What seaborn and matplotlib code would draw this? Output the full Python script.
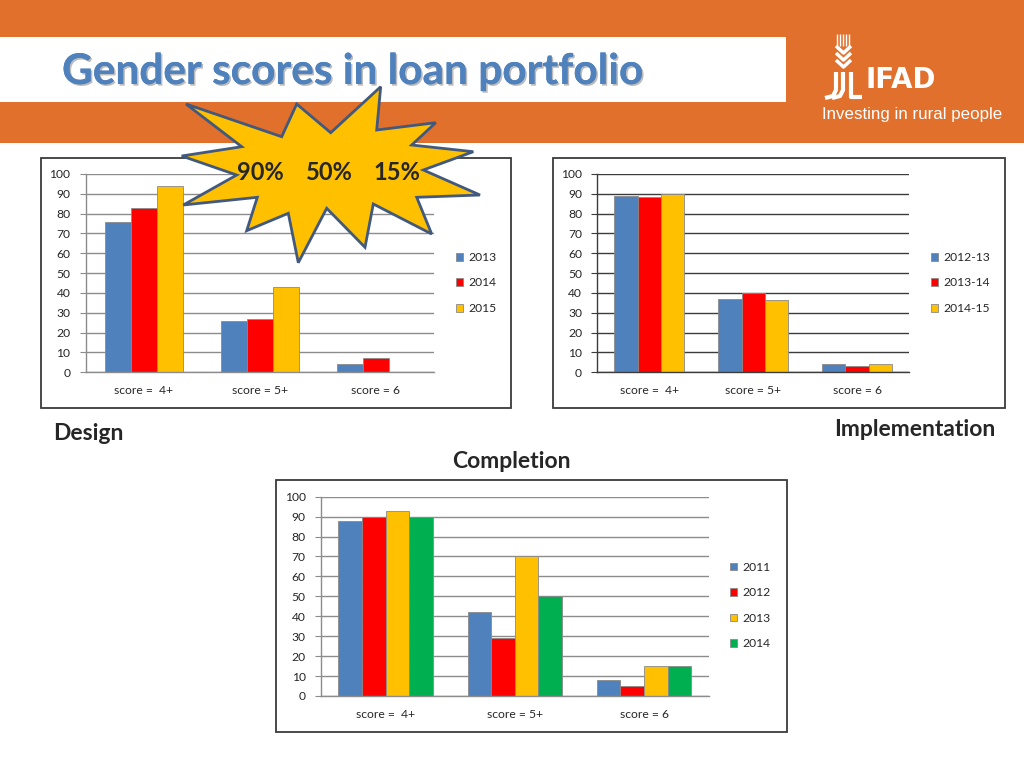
import numpy as np
import pandas as pd
import matplotlib
matplotlib.use("Agg")
import matplotlib.pyplot as plt
import matplotlib.patheffects as pe
from matplotlib.patches import Rectangle, Polygon
import seaborn as sns

# categories
scores = ["score =  4+", "score = 5+", "score = 6"]

# Design
design_years = ["2013", "2014", "2015"]
design_2013 = [76, 26, 4]
design_2014 = [83, 27, 7]
design_2015 = [94, 43, 0]

# Implementation
impl_years = ["2012-13", "2013-14", "2014-15"]
impl_2012_13 = [89, 36.8, 4.4]
impl_2013_14 = [88.6, 39.8, 3.4]
impl_2014_15 = [89.7, 36.3, 4.2]

# Completion
compl_years = ["2011", "2012", "2013", "2014"]
compl_2011 = [88, 42, 8]
compl_2012 = [90, 29, 5]
compl_2013 = [93, 70, 15]
compl_2014 = [90, 50, 15]

star_labels = ["90%", "50%", "15%"]

BLUE, RED, GOLD, GREEN = "#4F81BD", "#FF0000", "#FFC000", "#00B050"
ORANGE = "#E0702B"

W, H = 1024, 768


def fx(x):
    return x / W


def fy(y):
    return 1 - y / H


def long_df(years, series):
    rows = []
    for yr, vals in zip(years, series):
        for s, v in zip(scores, vals):
            rows.append(dict(score=s, value=v, year=yr))
    return pd.DataFrame(rows)


sns.set_style("white")
plt.rcParams["font.family"] = ["Lato", "DejaVu Sans"]

fig = plt.figure(figsize=(W / 100, H / 100), dpi=100)

# header band and title box
fig.patches.append(Rectangle((0, fy(143)), 1, 143 / H, transform=fig.transFigure,
                             facecolor=ORANGE, edgecolor="none", zorder=-3))
fig.patches.append(Rectangle((0, fy(102)), fx(786), 65 / H, transform=fig.transFigure,
                             facecolor="white", edgecolor="none", zorder=-2))
fig.text(fx(62), fy(72), "Gender scores in loan portfolio", fontsize=30.5, fontweight="bold",
         color=BLUE, va="center", ha="left",
         path_effects=[pe.withSimplePatchShadow(offset=(1.2, -1.2), shadow_rgbFace="#404040", alpha=0.35),
                       pe.Normal()])

# IFAD logo (rough)
def fl(xs, ys, lw=3):
    fig.add_artist(plt.Line2D([fx(x) for x in xs], [fy(y) for y in ys], color="white",
                              lw=lw, solid_capstyle="butt", transform=fig.transFigure))

for x in [837, 840, 843, 846, 849]:
    fl([x, x], [34, 46], lw=1)
for y in [50, 57, 64]:
    fl([836, 843.5, 851], [y - 4, y + 3, y - 4], lw=2.5)
fl([836, 836, 833, 825], [72, 90, 96, 98])
fl([843, 843, 840, 832], [72, 90, 96, 98])
fl([851, 851, 862], [72, 96.5, 96.5])
fig.text(fx(866), fy(80), "IFAD", fontsize=20, fontweight="bold", color="white",
         va="center", ha="left", family=["DejaVu Sans"])
fig.text(fx(822), fy(115), "Investing in rural people", fontsize=12.2, color="white",
         va="center", ha="left", family=["Liberation Sans", "DejaVu Sans"])


def chart(box, plot, df, years, palette, width, gridcolor, legend_xy):
    bx0, by0, bx1, by1 = box
    fig.patches.append(Rectangle((fx(bx0), fy(by1)), (bx1 - bx0) / W, (by1 - by0) / H,
                                 transform=fig.transFigure, facecolor="white",
                                 edgecolor="#3a3a3a", lw=1.3, zorder=-1))
    x0, y0, x1, y1 = plot
    ax = fig.add_axes([fx(x0), fy(y1), (x1 - x0) / W, (y1 - y0) / H])
    ax.patch.set_alpha(0)
    sns.barplot(data=df, x="score", y="value", hue="year", hue_order=years, order=scores,
                palette=palette, width=width, saturation=1, ax=ax,
                edgecolor="#8a8a8a", linewidth=0.6)
    ax.set_xlim(-0.5, 2.5)
    ax.set_ylim(0, 100)
    ax.set_yticks(np.arange(0, 101, 10))
    ax.set_xlabel("")
    ax.set_ylabel("")
    ax.yaxis.grid(True, color=gridcolor, lw=1)
    ax.set_axisbelow(True)
    for s in ["top", "right"]:
        ax.spines[s].set_visible(False)
    for s in ["left", "bottom"]:
        ax.spines[s].set_color(gridcolor)
        ax.spines[s].set_linewidth(1)
    ax.set_xticks([-0.5, 0.5, 1.5, 2.5], minor=True)
    ax.tick_params(axis="x", which="major", length=0, labelsize=8.7, pad=9)
    ax.tick_params(axis="x", which="minor", length=4, color=gridcolor, direction="out")
    ax.tick_params(axis="y", length=4, color=gridcolor, labelsize=8.7, pad=7, direction="out", left=True)
    handles, labels = ax.get_legend_handles_labels()
    ax.legend(handles, labels, loc="center left", bbox_to_anchor=(fx(legend_xy[0]), fy(legend_xy[1])),
              bbox_transform=fig.transFigure, frameon=False, fontsize=8.7,
              handlelength=0.6, handleheight=0.6, handletextpad=0.45, labelspacing=1.2,
              borderpad=0, borderaxespad=0)
    return ax


chart((41, 158, 511, 408), (85.7, 174, 434, 372.3),
      long_df(design_years, [design_2013, design_2014, design_2015]),
      design_years, [BLUE, RED, GOLD], 0.67, "#8c8c8c", (456, 283))

chart((553, 158, 1005, 408), (597.3, 174, 909, 372.3),
      long_df(impl_years, [impl_2012_13, impl_2013_14, impl_2014_15]),
      impl_years, [BLUE, RED, GOLD], 0.67, "#3c3c3c", (931, 283))

chart((276, 480, 787, 732), (321, 496.7, 708.7, 696),
      long_df(compl_years, [compl_2011, compl_2012, compl_2013, compl_2014]),
      compl_years, [BLUE, RED, GOLD, GREEN], 0.73, "#8c8c8c", (730, 605.5))

# section labels
fig.text(fx(53), fy(433), "Design", fontsize=16.5, fontweight="bold", va="center", ha="left")
fig.text(fx(995), fy(429), "Implementation", fontsize=16.5, fontweight="bold", va="center", ha="right")
fig.text(fx(511), fy(462), "Completion", fontsize=16.5, fontweight="bold", va="center", ha="center")

# starburst callout
tips = [(186, 104), (296.7, 104), (380.7, 86.7), (435.7, 122.7), (473.3, 151.7), (480, 195),
        (431.7, 234), (365, 247.3), (298.3, 262.7), (246.7, 230.7), (183.3, 205), (181.7, 156)]
inner = [(281.7, 136.7), (330.7, 132.7), (376.7, 130), (411.7, 145), (423.3, 170), (416.7, 197.3),
         (373.3, 204), (326.7, 208.3), (288.3, 213.3), (257.3, 197.3), (236.7, 175), (241.7, 146.7)]
pts = []
for t, i in zip(tips, inner):
    pts.append((fx(t[0]), fy(t[1])))
    pts.append((fx(i[0]), fy(i[1])))
fig.patches.append(Polygon(pts, closed=True, transform=fig.transFigure, facecolor=GOLD,
                           edgecolor="#41597F", lw=2, joinstyle="miter", zorder=5))
for lab, x in zip(star_labels, [260, 329, 397]):
    fig.text(fx(x), fy(172), lab, fontsize=17, fontweight="bold", va="center", ha="center", zorder=6)

fig.savefig("out.png", dpi=100)
